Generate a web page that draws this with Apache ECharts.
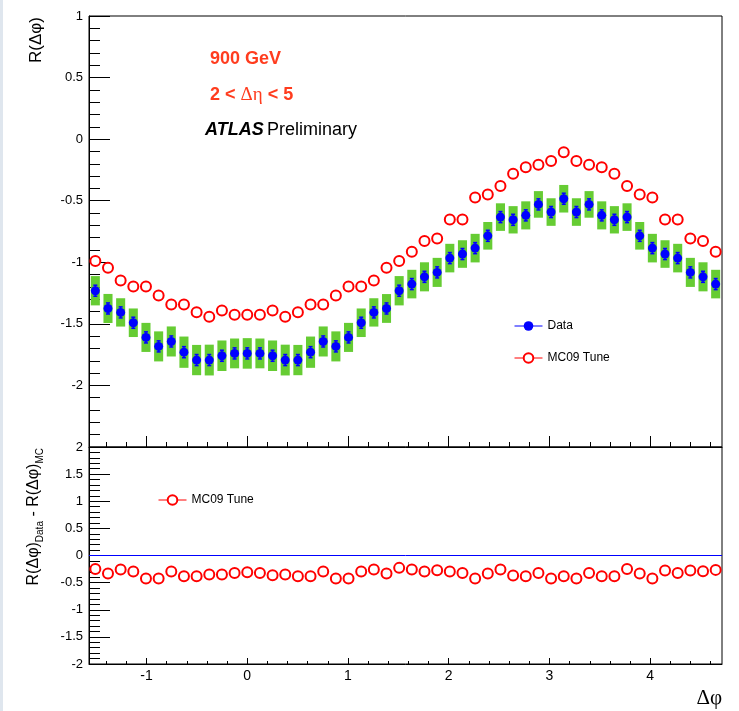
<!DOCTYPE html>
<html>
<head>
<meta charset="utf-8">
<script src="https://cdn.jsdelivr.net/npm/echarts@6/dist/echarts.min.js"></script>
<style>
  html, body { margin: 0; padding: 0; }
  body { background: linear-gradient(to right, #dfe6ee 0, #dfe6ee 3px, #fff 3px); }
  #chart { width: 739px; height: 711px; }
</style>
</head>
<body>
<div id="chart"></div>
<script>
// delta phi binning: 50 bins from -pi/2 to 3pi/2
var phiMin = -Math.PI / 2
var phiMax = 3 * Math.PI / 2
var nBins = 50
var xMajorTicks = [-1, 0, 1, 2, 3, 4]

// R(dphi) for data (blue points)
var dataR = [
  -1.231, -1.375, -1.407, -1.491, -1.610, -1.683, -1.643, -1.730, -1.794, -1.794,
  -1.759, -1.740, -1.740, -1.740, -1.759, -1.794, -1.794, -1.730, -1.643, -1.683,
  -1.610, -1.491, -1.407, -1.375, -1.231, -1.177, -1.118, -1.082, -0.966, -0.933,
  -0.885, -0.785, -0.633, -0.655, -0.619, -0.530, -0.592, -0.484, -0.592, -0.530,
  -0.619, -0.655, -0.633, -0.785, -0.885, -0.933, -0.966, -1.082, -1.118, -1.177
]
// statistical errors (small blue bars)
var dataStat = [
  0.045, 0.045, 0.045, 0.045, 0.045, 0.045, 0.045, 0.045, 0.045, 0.045,
  0.045, 0.045, 0.045, 0.045, 0.045, 0.045, 0.045, 0.045, 0.045, 0.045,
  0.045, 0.045, 0.045, 0.045, 0.045, 0.045, 0.045, 0.045, 0.045, 0.045,
  0.045, 0.045, 0.045, 0.045, 0.045, 0.045, 0.045, 0.045, 0.045, 0.045,
  0.045, 0.045, 0.045, 0.045, 0.045, 0.045, 0.045, 0.045, 0.045, 0.045
]
// systematic errors (green boxes)
var dataSys = [
  0.119, 0.118, 0.115, 0.116, 0.118, 0.122, 0.122, 0.127, 0.123, 0.125,
  0.124, 0.121, 0.124, 0.121, 0.124, 0.125, 0.123, 0.127, 0.122, 0.122,
  0.118, 0.116, 0.115, 0.117, 0.119, 0.116, 0.118, 0.118, 0.116, 0.112,
  0.116, 0.112, 0.112, 0.111, 0.114, 0.108, 0.112, 0.112, 0.112, 0.108,
  0.114, 0.111, 0.112, 0.112, 0.116, 0.112, 0.116, 0.118, 0.118, 0.116
]
// MC09 tune (red open circles)
var mcR = [
  -0.990, -1.045, -1.147, -1.196, -1.196, -1.269, -1.342, -1.342, -1.405, -1.443,
  -1.391, -1.426, -1.426, -1.426, -1.391, -1.443, -1.405, -1.342, -1.342, -1.269,
  -1.196, -1.196, -1.147, -1.045, -0.990, -0.915, -0.828, -0.806, -0.652, -0.652,
  -0.473, -0.449, -0.381, -0.281, -0.229, -0.208, -0.178, -0.107, -0.178, -0.208,
  -0.229, -0.281, -0.381, -0.449, -0.473, -0.652, -0.652, -0.806, -0.828, -0.915
]
// lower pad: R_Data - R_MC
var diffR = [
  -0.247, -0.333, -0.259, -0.296, -0.426, -0.426, -0.296, -0.383, -0.383, -0.352,
  -0.352, -0.321, -0.309, -0.321, -0.364, -0.352, -0.383, -0.383, -0.296, -0.426,
  -0.426, -0.296, -0.259, -0.333, -0.228, -0.259, -0.296, -0.272, -0.296, -0.321,
  -0.426, -0.333, -0.259, -0.370, -0.383, -0.321, -0.426, -0.383, -0.426, -0.321,
  -0.383, -0.383, -0.247, -0.333, -0.426, -0.278, -0.321, -0.278, -0.290, -0.265
]

var binW = (phiMax - phiMin) / nBins
var boxHalf = 0.045
var fontSans = 'Liberation Sans, Arial, Helvetica, sans-serif'
var fontSerif = 'Liberation Serif, Times New Roman, serif'

// minor ticks every 0.2 (not on integers)
var xMinorTicks = []
for (var t = -14; t <= 46; t += 2) {
  if (t % 10 !== 0) xMinorTicks.push(t / 10)
}

var binCenter = function(i) { return phiMin + (i + 0.5) * binW }
var pts = function(arr) { return arr.map(function(v, i) { return [binCenter(i), v] }) }
var withErr = function(arr, err) { return arr.map(function(v, i) { return [binCenter(i), v, err[i]] }) }

function renderSys(params, api) {
  var x = api.value(0), y = api.value(1), e = api.value(2)
  var p1 = api.coord([x - boxHalf, y + e])
  var p2 = api.coord([x + boxHalf, y - e])
  return {
    type: 'rect',
    shape: { x: p1[0], y: p1[1], width: p2[0] - p1[0], height: p2[1] - p1[1] },
    style: { fill: '#66cc33' }
  }
}

function renderStat(params, api) {
  var x = api.value(0), y = api.value(1), e = api.value(2)
  var top = api.coord([x, y + e])
  var bot = api.coord([x, y - e])
  var st = { stroke: '#0000ff', lineWidth: 1.5 }
  return {
    type: 'group',
    children: [
      { type: 'line', shape: { x1: top[0], y1: top[1], x2: bot[0], y2: bot[1] }, style: st },
      { type: 'line', shape: { x1: top[0] - 2, y1: top[1], x2: top[0] + 2, y2: top[1] }, style: st },
      { type: 'line', shape: { x1: bot[0] - 2, y1: bot[1], x2: bot[0] + 2, y2: bot[1] }, style: st }
    ]
  }
}

function xAxisPair(gridIndex, majorLen, minorLen, showLabels) {
  return [{
    type: 'value', gridIndex: gridIndex, position: 'bottom',
    min: phiMin, max: phiMax,
    axisLine: { show: true, onZero: false, lineStyle: { color: '#000', width: 1 } },
    axisTick: { show: true, inside: true, length: majorLen, customValues: xMajorTicks, lineStyle: { color: '#000' } },
    axisLabel: {
      show: showLabels, customValues: xMajorTicks, margin: 5,
      color: '#000', fontSize: 14, fontFamily: fontSans
    },
    splitLine: { show: false }
  }, {
    type: 'value', gridIndex: gridIndex, position: 'bottom',
    min: phiMin, max: phiMax,
    axisLine: { show: false, onZero: false },
    axisTick: { show: true, inside: true, length: minorLen, customValues: xMinorTicks, lineStyle: { color: '#000' } },
    axisLabel: { show: false },
    splitLine: { show: false }
  }]
}

function yAxis(gridIndex, min, max, showMin) {
  return {
    type: 'value', gridIndex: gridIndex,
    min: min, max: max, interval: 0.5,
    axisLine: { show: true, onZero: false, lineStyle: { color: '#000', width: 1 } },
    axisTick: { show: true, inside: true, length: 21, lineStyle: { color: '#000' } },
    minorTick: { show: true, splitNumber: 5, length: 11, lineStyle: { color: '#000' } },
    axisLabel: {
      margin: 6, color: '#000', fontSize: 13, fontFamily: fontSans,
      showMinLabel: showMin, showMaxLabel: true
    },
    splitLine: { show: false }
  }
}

var chart = echarts.init(document.getElementById('chart'), null, { renderer: 'canvas' })

chart.setOption({
  animation: false,
  backgroundColor: 'transparent',
  grid: [
    { left: 89, right: 17, top: 16, height: 431, show: true, borderColor: '#000', borderWidth: 1, backgroundColor: 'transparent' },
    { left: 89, right: 17, top: 447, height: 217, show: true, borderColor: '#000', borderWidth: 1, backgroundColor: 'transparent' }
  ],
  xAxis: xAxisPair(0, 11, 5, false).concat(xAxisPair(1, 6, 3, true)),
  yAxis: [yAxis(0, -2.5, 1, false), yAxis(1, -2, 2, true)],
  legend: [{
    orient: 'vertical', left: 514, top: 320, padding: 0,
    itemWidth: 28, itemHeight: 12, itemGap: 20,
    selectedMode: false,
    lineStyle: { width: 1, opacity: 1 },
    textStyle: { fontSize: 12, color: '#000', fontFamily: fontSans },
    data: ['Data', 'MC09 Tune']
  }, {
    orient: 'vertical', left: 158, top: 494, padding: 0,
    itemWidth: 28, itemHeight: 12,
    selectedMode: false,
    lineStyle: { width: 1, opacity: 1 },
    textStyle: { fontSize: 12, color: '#000', fontFamily: fontSans },
    data: ['MC09 Tune']
  }],
  graphic: [
    {
      type: 'text', x: 210, y: 59,
      style: { text: '900 GeV', font: 'bold 18px ' + fontSans, fill: '#ff3c1e', verticalAlign: 'middle' }
    },
    {
      type: 'text', x: 210, y: 95,
      style: {
        text: '{b|2 < }{g|Δη}{b| < 5}', verticalAlign: 'middle',
        rich: {
          b: { font: 'bold 18px ' + fontSans, fill: '#ff3c1e' },
          g: { font: '19px ' + fontSerif, fill: '#ff3c1e' }
        }
      }
    },
    {
      type: 'text', x: 205, y: 130,
      style: {
        text: '{a|ATLAS} {p|Preliminary}', verticalAlign: 'middle',
        rich: {
          a: { font: 'italic bold 18px ' + fontSans, fill: '#000' },
          p: { font: '18px ' + fontSans, fill: '#000' }
        }
      }
    },
    {
      type: 'text', x: 36, y: 17, rotation: Math.PI / 2,
      style: { text: 'R(Δφ)', font: '17px ' + fontSans, fill: '#000', align: 'right', verticalAlign: 'middle' }
    },
    {
      type: 'text', x: 34, y: 448, rotation: Math.PI / 2,
      style: {
        text: '{a|R(Δφ)}{s|Data}{a| - R(Δφ)}{s|MC}', align: 'right', verticalAlign: 'middle',
        rich: {
          a: { font: '16px ' + fontSans, fill: '#000', lineHeight: 22 },
          s: { font: '10px ' + fontSans, fill: '#000', lineHeight: 10, verticalAlign: 'bottom' }
        }
      }
    },
    {
      type: 'text', x: 722, y: 698,
      style: { text: 'Δφ', font: '21px ' + fontSerif, fill: '#000', align: 'right', verticalAlign: 'middle' }
    }
  ],
  series: [
    {
      name: 'sys', type: 'custom', xAxisIndex: 0, yAxisIndex: 0,
      renderItem: renderSys, data: withErr(dataR, dataSys), silent: true, z: 1
    },
    {
      name: 'stat', type: 'custom', xAxisIndex: 0, yAxisIndex: 0,
      renderItem: renderStat, data: withErr(dataR, dataStat), silent: true, z: 2
    },
    {
      name: 'Data', type: 'line', xAxisIndex: 0, yAxisIndex: 0,
      data: pts(dataR), symbol: 'circle', symbolSize: 9,
      itemStyle: { color: '#0000ff' }, lineStyle: { color: '#0000ff', opacity: 0 },
      silent: true, z: 3
    },
    {
      name: 'MC09 Tune', type: 'line', xAxisIndex: 0, yAxisIndex: 0,
      data: pts(mcR), symbol: 'emptyCircle', symbolSize: 10,
      itemStyle: { color: '#ff0000', borderWidth: 1 }, lineStyle: { color: '#ff0000', opacity: 0 },
      silent: true, z: 3
    },
    {
      name: 'MC09 Tune', type: 'line', xAxisIndex: 2, yAxisIndex: 1,
      data: pts(diffR), symbol: 'emptyCircle', symbolSize: 10,
      itemStyle: { color: '#ff0000', borderWidth: 1 }, lineStyle: { color: '#ff0000', opacity: 0 },
      silent: true, z: 3,
      markLine: {
        silent: true, symbol: 'none', label: { show: false },
        lineStyle: { color: '#0000ff', type: 'solid', width: 1 },
        data: [{ yAxis: 0 }]
      }
    }
  ]
})
</script>
</body>
</html>
